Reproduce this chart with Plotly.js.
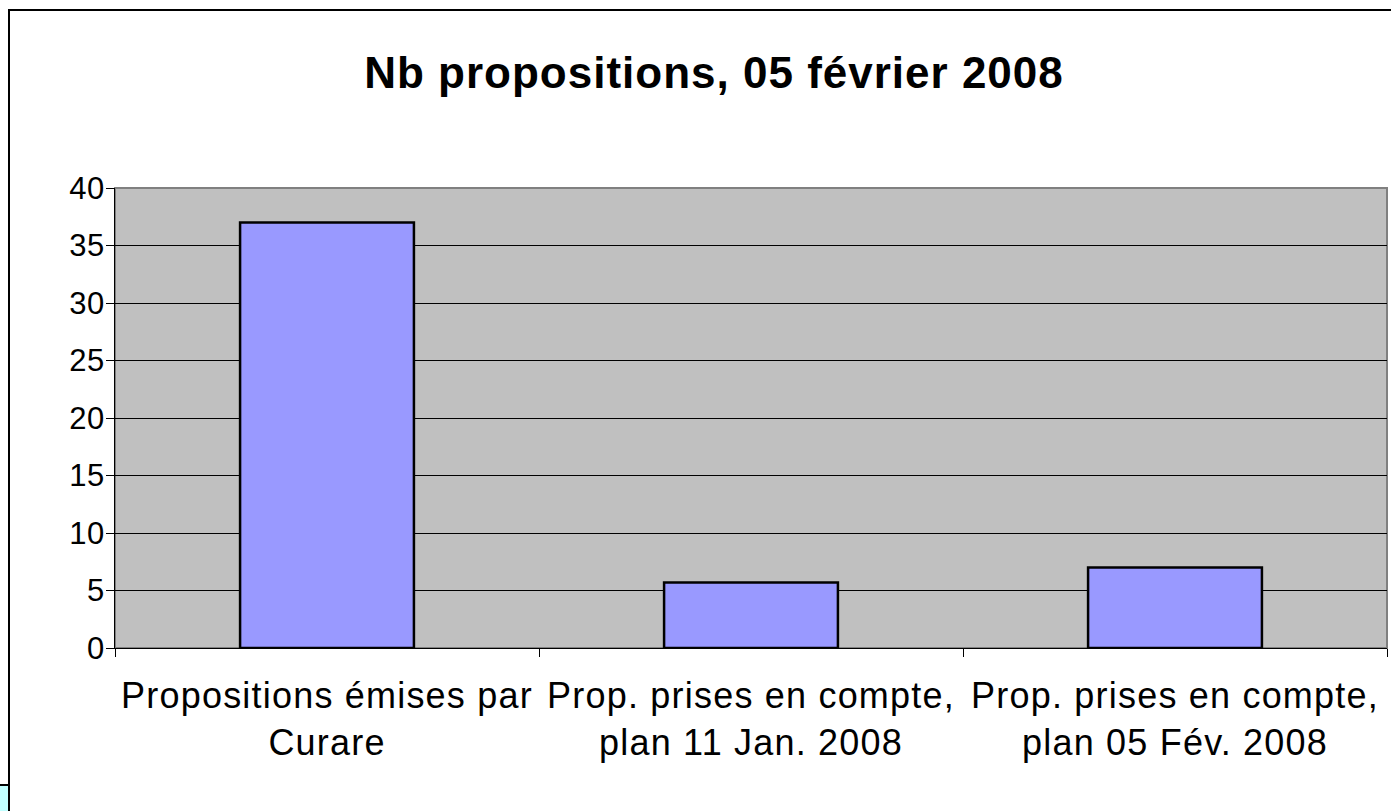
<!DOCTYPE html>
<html>
<head>
<meta charset="utf-8">
<script src="https://cdn.plot.ly/plotly-3.0.1.min.js"></script>
<style>
html,body{margin:0;padding:0;background:#fff;}
#chart{width:1391px;height:811px;}
#chart .xtick text{letter-spacing:1.2px;}
#chart .gtitle{letter-spacing:1px;}
#chart .ytick text{letter-spacing:0.5px;}
</style>
</head>
<body>
<div id="chart"></div>
<script>
var categories = ["Propositions émises par<br>Curare", "Prop. prises en compte,<br>plan 11 Jan. 2008", "Prop. prises en compte,<br>plan 05 Fév. 2008"];
var values = [37, 5.7, 7];
var yTicks = [0, 5, 10, 15, 20, 25, 30, 35, 40];
var chartTitle = "Nb propositions, 05 février 2008";

var W = 1391, H = 811;
var mL = 115, mR = 4, mT = 188, mB = 163;
var pw = W - mL - mR, ph = H - mT - mB;
function px(x){ return (x - mL) / pw; }
function py(y){ return (H - mB - y) / ph; }

var trace = {
  type: "bar",
  x: categories,
  y: values,
  width: 0.41,
  marker: {color: "#9999FF", line: {color: "#000000", width: 2.5}},
  hoverinfo: "none"
};

var layout = {
  width: W, height: H,
  margin: {l: mL, r: mR, t: mT, b: mB, pad: 0},
  paper_bgcolor: "#FFFFFF",
  plot_bgcolor: "#C0C0C0",
  showlegend: false,
  font: {family: "Arial, 'Liberation Sans', sans-serif", color: "#000000"},
  title: {
    text: "<b>" + chartTitle + "</b>",
    font: {size: 44, family: "Arial, 'Liberation Sans', sans-serif", color: "#000"},
    x: 714 / W, xref: "container", xanchor: "center",
    y: 1 - 73 / H, yref: "container", yanchor: "middle"
  },
  xaxis: {
    type: "category",
    tickson: "boundaries",
    ticks: "outside", ticklen: 8, tickcolor: "#000", tickwidth: 1,
    showline: true, linecolor: "#000", linewidth: 1,
    showgrid: false,
    tickfont: {size: 36, color: "#000"},
    ticklabelstandoff: 16,
    fixedrange: true
  },
  yaxis: {
    range: [0, 40],
    tickvals: yTicks,
    ticktext: yTicks.map(String),
    ticks: "outside", ticklen: 8, tickcolor: "#000", tickwidth: 1,
    showline: true, linecolor: "#000", linewidth: 1,
    showgrid: true, gridcolor: "#000", gridwidth: 1,
    zeroline: false,
    tickfont: {size: 31, color: "#000"},
    ticklabelstandoff: -5,
    fixedrange: true
  },
  shapes: [
    {type: "rect", xref: "paper", yref: "paper", x0: 0, x1: 1, y0: 0, y1: 1,
     line: {color: "#808080", width: 2}, layer: "below"},
    {type: "rect", xref: "paper", yref: "paper", x0: px(9), x1: px(1400), y0: py(10), y1: py(830),
     line: {color: "#000", width: 2}, fillcolor: "rgba(0,0,0,0)", layer: "above"},
    {type: "rect", xref: "paper", yref: "paper", x0: px(-5), x1: px(9), y0: py(830), y1: py(785),
     line: {color: "#000", width: 2}, fillcolor: "#C0FFFF", layer: "above"}
  ]
};

Plotly.newPlot("chart", [trace], layout, {displayModeBar: false, staticPlot: true});
</script>
</body>
</html>
